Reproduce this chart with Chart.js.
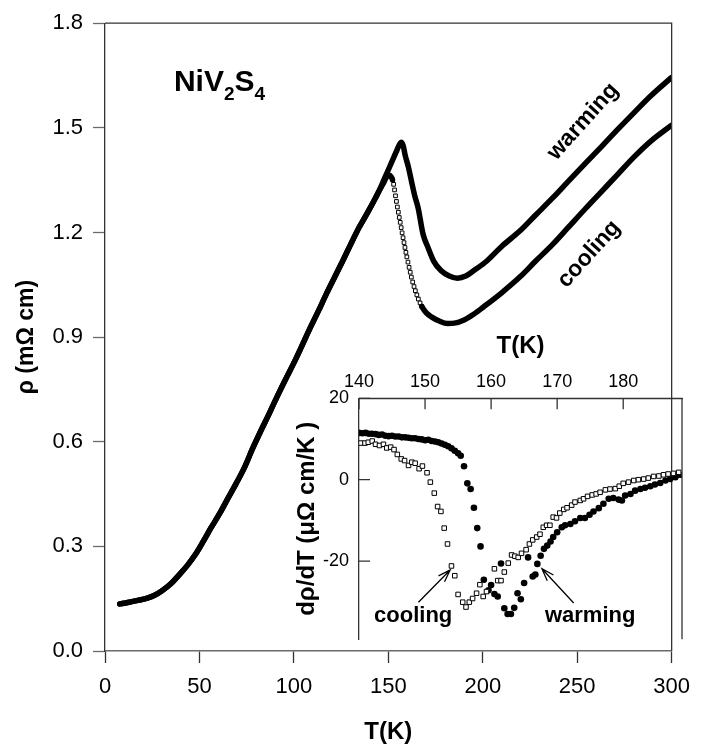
<!DOCTYPE html>
<html>
<head>
<meta charset="utf-8">
<script src="https://cdn.jsdelivr.net/npm/chart.js@4.4.1/dist/chart.umd.min.js"></script>
<style>
  html, body { margin: 0; padding: 0; background: #fff; }
  #wrap { position: relative; width: 701px; height: 747px; }
  #main { position: absolute; left: 0; top: 0; }
  #inset { position: absolute; left: 280px; top: 320px; }
</style>
</head>
<body>
<div id="wrap">
  <canvas id="main" width="701" height="747"></canvas>
  <canvas id="inset" width="421" height="340"></canvas>
</div>
<script>
// ---- main panel: rho(T), both runs share the low-T part
const commonT   = [7.8, 12, 17.4, 22, 26, 30, 34.7, 39, 43.4, 48, 52.1, 56, 60.8, 65, 69.4, 74, 78.1, 82.4, 86.8, 91, 95.5, 100, 104, 108.5, 113, 117.2, 121.5, 125.9, 130, 134.5, 139, 143.2, 145];
const commonRho = [0.135, 0.139, 0.145, 0.151, 0.159, 0.172, 0.192, 0.217, 0.244, 0.278, 0.315, 0.352, 0.395, 0.437, 0.480, 0.528, 0.580, 0.630, 0.679, 0.728, 0.778, 0.826, 0.872, 0.925, 0.975, 1.024, 1.071, 1.119, 1.165, 1.214, 1.257, 1.299, 1.318];

const warmT   = [148, 151.9, 154.5, 156.8, 157.8, 158.9, 160.6, 162.3, 164, 165.8, 168.4, 171, 174, 178, 182, 186.6, 191, 195.3, 202.3, 210, 219.6, 228, 237, 245, 254.3, 263, 271.7, 280, 289, 299.8];
const warmRho = [1.355, 1.403, 1.435, 1.459, 1.450, 1.422, 1.388, 1.346, 1.305, 1.270, 1.195, 1.157, 1.118, 1.090, 1.076, 1.069, 1.075, 1.091, 1.119, 1.160, 1.204, 1.250, 1.299, 1.345, 1.398, 1.447, 1.497, 1.543, 1.592, 1.644];

const coolHeadT   = [147.5, 149, 150.2, 151.5];
const coolHeadRho = [1.342, 1.358, 1.365, 1.360];
// steep drop on cooling, where the open squares show one by one
const coolDropT   = [152.2, 152.8, 153.3, 153.8, 154.3, 154.8, 155.3, 155.8, 156.3, 156.8, 157.3, 157.8, 158.3, 158.8, 159.3, 159.8, 160.4, 161.0, 161.6, 162.2, 162.9, 163.6, 164.3, 165.1, 165.9, 166.8, 167.7];
const coolDropRho = [1.351, 1.338, 1.322, 1.305, 1.289, 1.273, 1.258, 1.243, 1.229, 1.214, 1.199, 1.185, 1.171, 1.157, 1.143, 1.130, 1.115, 1.100, 1.086, 1.072, 1.058, 1.045, 1.033, 1.021, 1.009, 0.998, 0.988];
const coolTailT   = [170, 172.8, 177, 181.4, 185, 190.1, 195, 200.5, 210, 219.6, 228, 237, 245, 254.3, 263, 271.7, 280, 289, 299.8];
const coolTailRho = [0.970, 0.958, 0.946, 0.939, 0.940, 0.949, 0.965, 0.987, 1.027, 1.072, 1.118, 1.166, 1.213, 1.268, 1.318, 1.368, 1.416, 1.462, 1.507];

const mainXTicks = [0, 50, 100, 150, 200, 250, 300];
const mainYTicks = [0, 0.3, 0.6, 0.9, 1.2, 1.5, 1.8];

// ---- inset: d(rho)/dT against T (top axis)
const dWarmT = [140.0, 140.5, 141.0, 141.5, 142.0, 142.5, 143.0, 143.5, 144.0, 144.5, 145.0, 145.5, 146.0, 146.5, 147.0, 147.5, 148.0, 148.5, 149.0, 149.5, 150.0, 150.5, 151.0, 151.5, 152.0, 152.5, 153.0, 153.5, 154.0, 154.5, 155.0, 155.4,
  155.9, 156.4, 156.9, 157.4, 157.9, 158.4, 158.9, 159.6, 160.0, 160.5, 161.0, 161.5, 162.0, 162.5, 163.0, 163.5, 164.0, 164.5, 165.0, 165.6, 166.3, 166.7, 167.0, 167.5,
  168.0, 168.5, 169.0, 169.4, 170.0, 170.7, 171.2, 172.0, 172.7, 173.5, 174.2, 174.9, 175.5, 176.3, 177.0, 177.8, 178.5, 179.3, 179.8, 180.3, 181.1, 181.8, 182.6, 183.3, 184.1, 184.8, 185.6, 186.4, 187.1, 187.9, 188.6];
const dWarmV = [11.5, 11.4, 11.5, 11.3, 11.3, 11.2, 11.0, 11.1, 10.8, 10.7, 10.8, 10.6, 10.6, 10.4, 10.4, 10.3, 10.2, 10.2, 10.0, 9.9, 9.7, 9.8, 9.5, 9.4, 9.2, 8.9, 8.6, 8.2, 7.7, 7.1, 6.5, 5.9,
  3.3, -0.9, -2.3, -6.9, -11.9, -16.4, -24.6, -27.2, -25.9, -28.1, -28.7, -20.6, -31.6, -33.0, -33.0, -31.5, -27.9, -29.4, -25.4, -19.1, -23.8, -23.3, -20.7, -18.7,
  -17.0, -16.2, -15.2, -14.1, -12.9, -11.7, -11.2, -10.9, -10.2, -9.4, -9.4, -8.6, -7.8, -7.0, -5.9, -4.7, -4.5, -4.9, -5.1, -3.9, -3.5, -2.7, -2.3, -2.0, -1.6, -1.2, -0.8, -0.2, 0.15, 0.6, 1.2];

const dCoolT = [140.3, 140.9, 141.4, 142.0, 142.5, 143.1, 143.7, 144.2, 144.8, 145.3, 145.8, 146.4, 146.9, 147.5, 148.0, 148.5, 149.1, 149.6, 150.3, 150.8, 151.4, 151.9, 152.4, 152.9,
  153.4, 154.0, 154.5, 155.0, 155.7, 156.2, 156.7, 157.2, 157.8, 158.3, 158.8, 159.3, 160.5, 161.0, 161.5, 162.0, 162.6, 163.1, 163.6, 164.1, 164.6, 165.3, 165.8, 166.3, 166.9, 167.4,
  167.9, 168.4, 168.9, 169.4, 169.9, 170.4, 171.0, 171.5, 172.2, 172.7, 173.5, 174.0, 174.6, 175.3, 175.9, 176.5, 177.3, 178.0, 178.8, 179.4, 180.0, 180.8, 181.6, 182.3, 183.1, 183.8, 184.6, 185.4, 186.1, 186.8, 187.6, 188.4];
const dCoolV = [9.0, 9.0, 9.2, 9.5, 8.7, 8.4, 8.7, 7.8, 8.0, 7.4, 6.2, 5.1, 4.7, 3.5, 4.3, 4.05, 2.7, 3.35, 1.7, -0.6, -3.3, -6.6, -7.8, -11.9,
  -15.8, -21.2, -23.6, -28.2, -30.1, -31.3, -30.1, -29.2, -27.9, -25.8, -28.7, -27.5, -21.9, -24.8, -24.8, -22.7, -20.5, -18.5, -18.8, -19.1, -18.1, -17.2, -15.8, -14.8, -14.1, -13.4,
  -11.7, -11.2, -11.2, -9.2, -9.4, -8.2, -7.3, -6.9, -6.25, -5.5, -5.1, -4.7, -4.1, -3.75, -3.5, -3.1, -2.5, -2.3, -2.2, -1.6, -0.9, -0.6, -0.2, 0.0, 0.15, 0.4, 0.8, 0.9, 1.2, 1.4, 1.55, 1.8];

const insetXTicks = [140, 150, 160, 170, 180];
const insetYTicks = [-20, 0, 20];

const FONT = '"Liberation Sans", Arial, Helvetica, sans-serif';
const AXIS = '#333';
const AXIS_X = '#6a6a6a';   // the bottom axis line is printed a bit lighter
Chart.defaults.font.family = FONT;
Chart.defaults.color = '#000';

const pts = (xs, ys) => xs.map((x, i) => ({ x: x, y: ys[i] }));
const fixTicks = values => scale => { scale.ticks = values.map(v => ({ value: v })); };

// box round the plotting area (top and right sides; left/bottom come from the axes)
const frame = {
  id: 'frame',
  afterDraw(chart) {
    const { ctx, chartArea: a } = chart;
    ctx.save();
    ctx.strokeStyle = AXIS;
    ctx.lineWidth = 1.3;
    ctx.beginPath();
    ctx.moveTo(a.left, a.top);
    ctx.lineTo(a.right, a.top);
    ctx.lineTo(a.right, a.bottom);
    ctx.stroke();
    ctx.restore();
  }
};

const mainText = {
  id: 'mainText',
  afterDatasetsDraw(chart) {
    const { ctx, scales: { x, y } } = chart;
    ctx.save();
    ctx.fillStyle = '#000';
    ctx.textBaseline = 'alphabetic';
    // NiV2S4
    let px = x.getPixelForValue(36.5), py = y.getPixelForValue(1.606);
    const parts = [['NiV', 0], ['2', 1], ['S', 0], ['4', 1]];
    parts.forEach(([s, sub]) => {
      ctx.font = sub ? 'bold 19px ' + FONT : 'bold 30px ' + FONT;
      ctx.fillText(s, px, py + (sub ? 9 : 0));
      px += ctx.measureText(s).width;
    });
    // rotated run labels
    ctx.font = 'bold 23px ' + FONT;
    ctx.textAlign = 'center';
    ctx.textBaseline = 'middle';
    [['warming', 253.1, 1.518], ['cooling', 256.3, 1.138]].forEach(([s, tx, ty]) => {
      ctx.save();
      ctx.translate(x.getPixelForValue(tx), y.getPixelForValue(ty));
      ctx.rotate(-48 * Math.PI / 180);
      ctx.fillText(s, 0, 0);
      ctx.restore();
    });
    ctx.restore();
  }
};

const inDrop = v => v >= coolDropT[0] && v <= coolDropT[coolDropT.length - 1];

new Chart(document.getElementById('main'), {
  type: 'scatter',
  data: {
    datasets: [
      {
        label: 'warming',
        data: pts(commonT.concat(warmT), commonRho.concat(warmRho)),
        showLine: true, borderColor: '#000', borderWidth: 5.5, pointRadius: 0,
        cubicInterpolationMode: 'monotone', borderCapStyle: 'round'
      },
      {
        label: 'cooling',
        data: pts(commonT.concat(coolHeadT, coolDropT, coolTailT), commonRho.concat(coolHeadRho, coolDropRho, coolTailRho)),
        showLine: true, borderColor: '#000', borderWidth: 5.5, pointRadius: 0,
        cubicInterpolationMode: 'monotone', borderCapStyle: 'round',
        segment: {
          borderColor: c => (inDrop(c.p0.parsed.x) && inDrop(c.p1.parsed.x)) ? 'rgba(0,0,0,0)' : '#000'
        }
      },
      {
        label: 'cooling points',
        data: pts(coolDropT, coolDropRho),
        showLine: false, pointStyle: 'rect', pointRadius: 2.6,
        pointBackgroundColor: '#fff', pointBorderColor: '#000', pointBorderWidth: 1
      }
    ]
  },
  options: {
    responsive: false, animation: false, devicePixelRatio: 1,
    layout: { padding: { top: 16.7, right: 19, left: 0, bottom: 0 } },
    plugins: { legend: { display: false }, tooltip: { enabled: false } },
    scales: {
      x: {
        type: 'linear', min: 0, max: 300,
        afterBuildTicks: fixTicks(mainXTicks),
        afterFit: s => { s.height = 96; },
        ticks: { font: { size: 22 }, padding: 11, maxRotation: 0 },
        grid: { drawOnChartArea: false, drawTicks: true, tickLength: 12, tickColor: AXIS, tickWidth: 1.3 },
        border: { color: AXIS_X, width: 1.5 },
        title: { display: true, text: 'T(K)', font: { size: 24, weight: 'bold' }, padding: { top: 0, bottom: 0 } }
      },
      y: {
        type: 'linear', min: 0, max: 1.8,
        afterBuildTicks: fixTicks(mainYTicks),
        afterFit: s => { s.width = 105; },
        ticks: { font: { size: 22 }, padding: 10, callback: v => v.toFixed(1) },
        grid: { drawOnChartArea: false, drawTicks: true, tickLength: 12, tickColor: AXIS_X, tickWidth: 1.3 },
        border: { color: AXIS, width: 1.3 },
        title: { display: true, text: 'ρ (mΩ cm)', font: { size: 23, weight: 'bold' }, padding: { top: 13, bottom: 0 } }
      }
    }
  },
  plugins: [frame, mainText]
});

// inset: ticks point inwards
const innerTicks = {
  id: 'innerTicks',
  afterDraw(chart) {
    const { ctx, chartArea: a, scales: { x, y } } = chart;
    ctx.save();
    ctx.strokeStyle = AXIS;
    ctx.lineWidth = 1.3;
    ctx.beginPath();
    x.ticks.forEach(t => {
      const p = x.getPixelForValue(t.value);
      ctx.moveTo(p, a.top); ctx.lineTo(p, a.top + 11);
    });
    y.ticks.forEach(t => {
      const p = y.getPixelForValue(t.value);
      ctx.moveTo(a.left, p); ctx.lineTo(a.left + 11, p);
    });
    ctx.stroke();
    ctx.restore();
  }
};

function arrow(ctx, x0, y0, x1, y1) {
  const ang = Math.atan2(y1 - y0, x1 - x0), h = 13, s = 0.33;
  ctx.beginPath();
  ctx.moveTo(x0, y0); ctx.lineTo(x1, y1);
  ctx.moveTo(x1 - h * Math.cos(ang - s), y1 - h * Math.sin(ang - s));
  ctx.lineTo(x1, y1);
  ctx.lineTo(x1 - h * Math.cos(ang + s), y1 - h * Math.sin(ang + s));
  ctx.stroke();
}

const insetText = {
  id: 'insetText',
  afterDatasetsDraw(chart) {
    const { ctx, scales: { x, y } } = chart;
    ctx.save();
    ctx.fillStyle = '#000';
    ctx.strokeStyle = '#000';
    ctx.lineWidth = 1.3;
    ctx.font = 'bold 22px ' + FONT;
    ctx.textAlign = 'center';
    ctx.textBaseline = 'middle';
    ctx.fillText('cooling', x.getPixelForValue(148.2), y.getPixelForValue(-33.6));
    ctx.fillText('warming', x.getPixelForValue(175), y.getPixelForValue(-33.6));
    arrow(ctx, x.getPixelForValue(149.0), y.getPixelForValue(-30.1), x.getPixelForValue(153.8), y.getPixelForValue(-22.2));
    arrow(ctx, x.getPixelForValue(172.5), y.getPixelForValue(-30.3), x.getPixelForValue(167.7), y.getPixelForValue(-21.9));
    ctx.restore();
  }
};

new Chart(document.getElementById('inset'), {
  type: 'scatter',
  data: {
    datasets: [
      {
        label: 'cooling',
        data: pts(dCoolT, dCoolV),
        pointStyle: 'rect', pointRadius: 3.2,
        pointBackgroundColor: '#fff', pointBorderColor: '#000', pointBorderWidth: 1
      },
      {
        label: 'warming',
        data: pts(dWarmT, dWarmV),
        pointStyle: 'circle', pointRadius: 3.3,
        pointBackgroundColor: '#000', pointBorderColor: '#000', pointBorderWidth: 0
      }
    ]
  },
  options: {
    responsive: false, animation: false, devicePixelRatio: 1,
    layout: { padding: { top: 0, right: 19, bottom: 9, left: 0 } },
    plugins: { legend: { display: false }, tooltip: { enabled: false } },
    scales: {
      x: {
        type: 'linear', position: 'top', min: 140, max: 188.9,
        afterBuildTicks: fixTicks(insetXTicks),
        afterFit: s => { s.height = 78.3; },
        ticks: { font: { size: 18 }, padding: 5, maxRotation: 0 },
        grid: { drawOnChartArea: false, drawTicks: false },
        border: { color: AXIS, width: 1.3 },
        title: { display: true, text: 'T(K)', font: { size: 24, weight: 'bold' }, padding: { top: 11.6, bottom: 0 } }
      },
      y: {
        type: 'linear', min: -39.2, max: 20,
        afterBuildTicks: fixTicks(insetYTicks),
        afterFit: s => { s.width = 79; },
        ticks: { font: { size: 18 }, padding: 10 },
        grid: { drawOnChartArea: false, drawTicks: false },
        border: { color: AXIS, width: 1.3 },
        title: { display: true, text: 'dρ/dT (μΩ cm/K )', font: { size: 24, weight: 'bold' }, padding: { top: 12.6, bottom: 0 } }
      }
    }
  },
  plugins: [frame, innerTicks, insetText]
});
</script>
</body>
</html>
